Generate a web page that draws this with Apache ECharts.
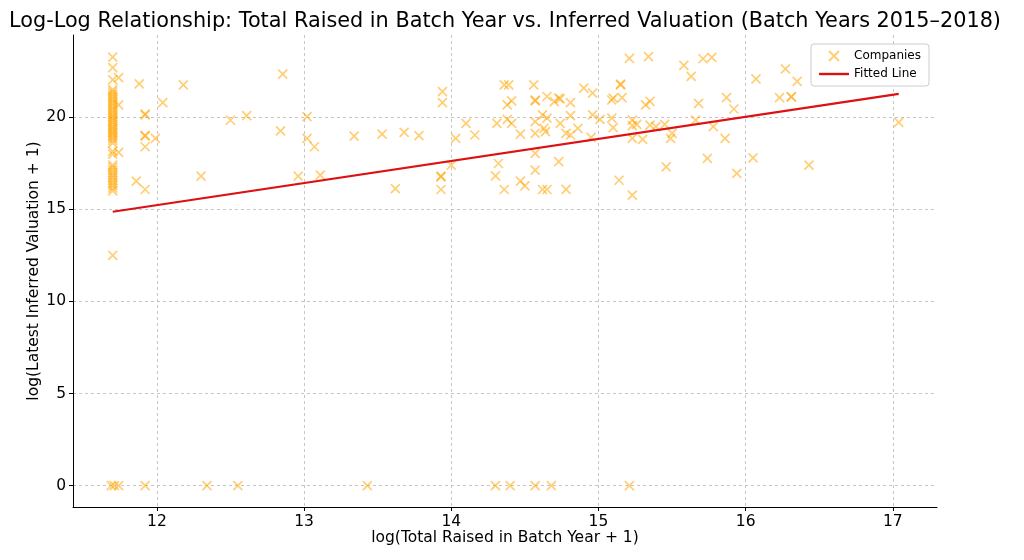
<!DOCTYPE html>
<html>
<head>
<meta charset="utf-8">
<script src="https://cdn.jsdelivr.net/npm/echarts@6/dist/echarts.min.js"></script>
<style>html,body{margin:0;padding:0;background:#fff}#c{width:1024px;height:560px}</style>
</head>
<body>
<div id="c"></div>
<script>
// Companies (x = log(total raised + 1), y = log(valuation + 1))
// Dense column at the minimum raise value (x ≈ 11.70), read as closely packed marks
const columnX = [
  11.70,11.70,11.70,
  11.70,11.70,11.70,11.70,11.70,11.70,11.70,11.70,11.70,11.70,11.70,11.70,11.70,11.70,11.70,11.70,11.70,11.70,11.70,11.70,11.70,11.70,11.70,11.70,11.70,11.70,
  11.70,11.70,
  11.70,11.70,11.70,11.70,11.70,11.70,11.70,11.70,11.70,11.70,11.70,
  11.70
];
const columnY = [
  23.27,22.70,22.03,
  21.5,21.38,21.25,21.12,21.0,20.88,20.76,20.64,20.52,20.4,20.28,20.16,20.05,19.94,19.83,19.72,19.61,19.5,19.4,19.3,19.2,19.1,18.98,18.86,18.74,18.6,
  18.15,18.0,
  17.4,17.28,17.13,16.98,16.85,16.72,16.58,16.44,16.3,16.15,16.0,
  12.5
];
const companyX = [
  11.69,11.71,11.74,
  11.74,11.74,11.74,
  11.88,12.18,12.855,12.04,11.92,11.92,12.50,12.61,13.02,12.84,11.92,11.92,11.99,11.92,13.02,13.07,11.86,11.92,12.30,12.96,13.11,
  11.92,12.34,12.55,13.43,14.30,14.40,14.57,14.68,15.21,
  13.34,13.53,13.68,13.78,13.62,13.94,13.94,13.93,13.93,13.93,14.00,14.03,14.10,14.16,14.31,14.36,14.39,14.38,14.41,14.38,14.41,14.47,
  14.32,14.30,14.36,14.47,14.50,14.56,14.57,14.57,14.65,14.62,14.57,14.57,14.64,14.57,14.57,14.62,14.65,
  14.73,14.70,14.74,14.81,14.90,14.96,14.65,14.74,14.81,14.63,14.78,14.81,14.86,14.96,15.01,14.95,14.73,14.78,
  15.09,15.10,15.15,15.15,15.16,15.21,15.34,15.09,15.10,15.23,15.26,15.23,15.30,15.23,15.32,15.35,15.35,15.39,15.45,15.49,15.50,15.46,15.14,15.23,
  15.58,15.63,15.71,15.77,15.68,15.66,15.78,15.74,15.87,15.92,15.86,15.94,16.05,16.07,16.27,16.35,16.23,16.31,16.31,16.43,17.04
];
const companyY = [
  0,0,0,
  22.16,20.67,18.10,
  21.82,21.76,22.34,20.80,20.13,20.18,19.84,20.09,20.04,19.26,18.98,19.02,18.86,18.40,18.86,18.40,16.53,16.08,16.80,16.80,16.86,
  0,0,0,0,0,0,0,0,0,
  18.98,19.09,19.18,19.00,16.13,21.40,20.80,16.80,16.76,16.08,17.40,18.86,19.67,19.04,19.67,21.76,21.76,20.67,20.89,19.89,19.67,19.09,
  17.49,16.82,16.08,16.53,16.28,21.76,20.89,20.93,21.13,20.13,19.77,19.13,19.22,18.04,17.13,16.08,16.08,
  21.04,20.85,21.0,20.80,21.58,21.31,19.95,19.67,20.09,19.40,19.13,19.04,19.40,20.13,19.89,18.91,17.59,16.09,
  20.94,21.04,21.8,21.76,21.07,23.2,23.3,19.95,19.44,19.85,19.62,18.86,18.80,19.55,20.67,20.86,19.58,19.49,19.62,18.86,19.13,17.31,16.58,15.77,
  22.82,22.22,23.18,23.25,20.76,19.85,19.49,17.77,21.07,20.45,18.86,16.95,17.80,22.09,22.63,21.95,21.07,21.13,21.10,17.40,19.73
];
// Fitted line end points
const fitX = [11.70, 17.04];
const fitY = [14.87, 21.27];
// Tick labels
const xTicks = [12, 13, 14, 15, 16, 17];
const yTicks = [0, 5, 10, 15, 20];

const FONT = 'DejaVu Sans';
const mark = 'rgba(255,165,0,0.68)';
const allX = columnX.concat(companyX);
const allY = columnY.concat(companyY);
const chart = echarts.init(document.getElementById('c'), null, {renderer: 'canvas'});
const axisCommon = {
  type: 'value',
  axisLine: {show: true, onZero: false, lineStyle: {color: '#000', width: 1}},
  axisTick: {show: true, inside: false, length: 4, lineStyle: {color: '#000'}},
  splitLine: {show: true, lineStyle: {color: '#b8b8b8', width: 0.8, type: [3, 3]}},
  nameTextStyle: {fontFamily: FONT, fontSize: 15.5, color: '#000'},
  nameLocation: 'middle',
  nameMoveOverlap: false
};
chart.setOption({
  animation: false,
  backgroundColor: '#fff',
  title: {
    text: 'Log-Log Relationship: Total Raised in Batch Year vs. Inferred Valuation (Batch Years 2015–2018)',
    left: 500, textAlign: 'center', top: 6,
    textStyle: {fontFamily: FONT, fontSize: 20.8, fontWeight: 'normal', color: '#000'}
  },
  legend: {
    orient: 'vertical', right: 95, top: 44,
    backgroundColor: '#fff', borderColor: '#cccccc', borderWidth: 1, borderRadius: 3,
    padding: [6, 8, 6, 8], itemGap: 6, itemWidth: 30, itemHeight: 10,
    symbolKeepAspect: true,
    textStyle: {fontFamily: FONT, fontSize: 12, color: '#000'},
    data: [
      {name: 'Companies', icon: 'path://M0,0L10,10M10,0L0,10'},
      {name: 'Fitted Line', icon: 'path://M0,0L30,0L30,2.4L0,2.4Z'}
    ]
  },
  grid: {left: 73, right: 87, top: 35, bottom: 53, containLabel: false},
  xAxis: Object.assign({}, axisCommon, {
    min: 11.43, max: 17.30,
    name: 'log(Total Raised in Batch Year + 1)', nameGap: 23,
    axisTick: Object.assign({}, axisCommon.axisTick, {customValues: xTicks}),
    axisLabel: {customValues: xTicks, fontFamily: FONT, fontSize: 15.5, color: '#000', margin: 7}
  }),
  yAxis: Object.assign({}, axisCommon, {
    min: -1.165, max: 24.47,
    name: 'log(Latest Inferred Valuation + 1)', nameGap: 31,
    axisTick: Object.assign({}, axisCommon.axisTick, {customValues: yTicks}),
    axisLabel: {customValues: yTicks, fontFamily: FONT, fontSize: 15.5, color: '#000', margin: 7}
  }),
  series: [
    {
      name: 'Companies', type: 'scatter',
      symbol: 'path://M0,0L10,10M10,0L0,10', symbolSize: 9,
      itemStyle: {color: 'rgba(0,0,0,0)', borderColor: mark, borderWidth: 1.7},
      data: allX.map((x, i) => [x, allY[i]]),
      z: 3
    },
    {
      name: 'Fitted Line', type: 'line',
      data: fitX.map((x, i) => [x, fitY[i]]),
      showSymbol: false, symbol: 'none',
      lineStyle: {color: '#dd1111', width: 2.2},
      itemStyle: {color: '#dd1111'},
      z: 4
    }
  ]
});
</script>
</body>
</html>
